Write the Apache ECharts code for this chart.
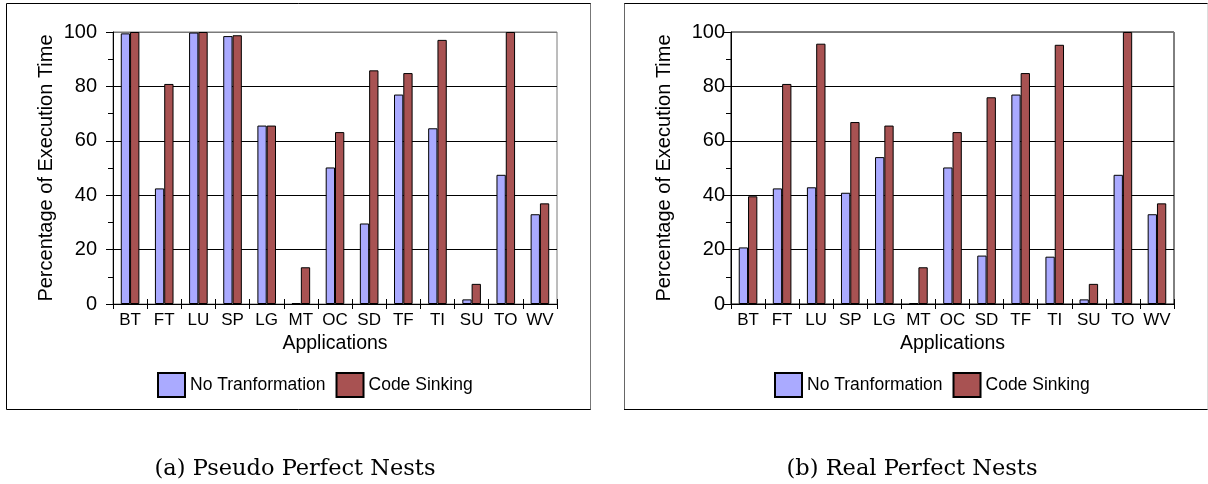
<!DOCTYPE html>
<html>
<head>
<meta charset="utf-8">
<script src="https://cdn.jsdelivr.net/npm/echarts@6/dist/echarts.min.js"></script>
<style>
html,body{margin:0;padding:0;background:#fff;}
#chart{width:1208px;height:484px;}
</style>
</head>
<body>
<div id="chart"></div>
<script>
const categories = ['BT','FT','LU','SP','LG','MT','OC','SD','TF','TI','SU','TO','WV'];
const yTicks = [0, 20, 40, 60, 80, 100];
const seriesNames = ['No Tranformation', 'Code Sinking'];
// (a) Pseudo Perfect Nests
const pseudoNoTransform = [99.5, 42.5, 99.8, 98.5, 65.6, 0.3, 50.2, 29.6, 77.0, 64.6, 1.7, 47.5, 33.0];
const pseudoCodeSinking = [100, 80.9, 100, 98.8, 65.6, 13.5, 63.2, 85.9, 84.9, 97.1, 7.4, 100, 37.0];
// (b) Real Perfect Nests
const realNoTransform = [20.8, 42.5, 42.9, 40.9, 54.0, 0.3, 50.2, 17.8, 77.0, 17.4, 1.7, 47.5, 33.0];
const realCodeSinking = [39.6, 80.9, 95.7, 66.9, 65.6, 13.5, 63.2, 76.0, 84.9, 95.3, 7.4, 100, 37.0];
const captions = ['(a) Pseudo Perfect Nests', '(b) Real Perfect Nests'];
const xName = 'Applications';
const yName = 'Percentage of Execution Time';

const FONT = 'Liberation Sans, Arial, sans-serif';
const BLUE = '#aaaaff';
const RED = '#a85252';

const chart = echarts.init(document.getElementById('chart'), null, {renderer: 'canvas'});

function xAxisDef(gridIndex) {
  return {
    type: 'category', gridIndex, data: categories,
    axisLine: {lineStyle: {color: '#000', width: 1}},
    axisTick: {show: true, alignWithLabel: false, length: 5, lineStyle: {color: '#000'}},
    axisLabel: {color: '#000', fontSize: 17, fontFamily: FONT, margin: 8, interval: 0},
    name: xName, nameLocation: 'middle', nameGap: 28,
    nameTextStyle: {color: '#000', fontSize: 19.5, fontFamily: FONT}
  };
}
// hidden twin axis that draws the upper half of the crossing x ticks
function xAxisInner(gridIndex) {
  return {
    type: 'category', gridIndex, data: categories, position: 'bottom',
    axisLine: {show: false},
    axisTick: {show: true, inside: true, alignWithLabel: false, length: 5, lineStyle: {color: '#000'}},
    axisLabel: {show: false}, splitLine: {show: false}
  };
}
function yAxisDef(gridIndex, labelMargin) {
  return {
    type: 'value', gridIndex, min: yTicks[0], max: yTicks[yTicks.length - 1], interval: 20,
    axisLine: {show: true, lineStyle: {color: '#000', width: 1}},
    axisTick: {show: true, length: 7, lineStyle: {color: '#000'}},
    minorTick: {show: true, splitNumber: 2, length: 5, lineStyle: {color: '#000'}},
    axisLabel: {color: '#000', fontSize: 20, fontFamily: FONT, margin: labelMargin},
    splitLine: {show: true, lineStyle: {color: ['#000', '#000', '#000', '#000', '#000', '#7a7a7a'], width: 1}},
    name: yName, nameLocation: 'middle', nameGap: 57,
    nameTextStyle: {color: '#000', fontSize: 20, fontFamily: FONT}
  };
}
function barSeries(name, data, idx, color) {
  return {
    type: 'bar', name, data, xAxisIndex: idx, yAxisIndex: idx,
    barWidth: 9.3, barGap: '0%',
    itemStyle: {color, borderColor: '#000', borderWidth: 1},
    animation: false
  };
}
function legendDef(left) {
  return {
    data: seriesNames, left, top: 367, orient: 'horizontal',
    itemWidth: 27, itemHeight: 24, itemGap: 10,
    textStyle: {color: '#000', fontSize: 17.5, fontFamily: FONT},
    icon: 'rect', selectedMode: false
  };
}

const option = {
  backgroundColor: '#fff',
  animation: false,
  grid: [
    {left: 113, right: 1208 - 557, top: 32, bottom: 484 - 304, show: true, borderColor: '#7a7a7a', borderWidth: 1, backgroundColor: 'transparent'},
    {left: 731, right: 1208 - 1174, top: 32, bottom: 484 - 304, show: true, borderColor: '#000', borderWidth: 1, backgroundColor: 'transparent'}
  ],
  xAxis: [xAxisDef(0), xAxisDef(1), xAxisInner(0), xAxisInner(1)],
  yAxis: [yAxisDef(0, 16), yAxisDef(1, 6)],
  legend: [legendDef(152), legendDef(769)],
  title: [
    {text: captions[0], left: 290, top: 453, textAlign: 'center',
     textStyle: {fontFamily: 'DejaVu Serif, serif', fontWeight: 'normal', fontSize: 22.5, color: '#000'}},
    {text: captions[1], left: 907, top: 453, textAlign: 'center',
     textStyle: {fontFamily: 'DejaVu Serif, serif', fontWeight: 'normal', fontSize: 22.5, color: '#000'}}
  ],
  series: [
    barSeries(seriesNames[0], pseudoNoTransform, 0, BLUE),
    barSeries(seriesNames[1], pseudoCodeSinking, 0, RED),
    barSeries(seriesNames[0], realNoTransform, 1, BLUE),
    barSeries(seriesNames[1], realCodeSinking, 1, RED)
  ],
  graphic: [
    // panel frames
    {type: 'line', shape: {x1: 6.5, y1: 3.5, x2: 591, y2: 3.5}, style: {stroke: '#000', lineWidth: 1}},
    {type: 'line', shape: {x1: 6.5, y1: 3.5, x2: 6.5, y2: 409.5}, style: {stroke: '#000', lineWidth: 1}},
    {type: 'line', shape: {x1: 6.5, y1: 409.5, x2: 591, y2: 409.5}, style: {stroke: '#000', lineWidth: 1}},
    {type: 'line', shape: {x1: 590.5, y1: 3.5, x2: 590.5, y2: 409.5}, style: {stroke: '#777', lineWidth: 1}},
    {type: 'line', shape: {x1: 624, y1: 3.5, x2: 1208, y2: 3.5}, style: {stroke: '#000', lineWidth: 1}},
    {type: 'line', shape: {x1: 624.5, y1: 3.5, x2: 624.5, y2: 409.5}, style: {stroke: '#666', lineWidth: 1}},
    {type: 'line', shape: {x1: 624, y1: 409.5, x2: 1208, y2: 409.5}, style: {stroke: '#000', lineWidth: 1}},
    {type: 'line', shape: {x1: 1207.5, y1: 3.5, x2: 1207.5, y2: 409.5}, style: {stroke: '#ddd', lineWidth: 1}}
  ]
};
chart.setOption(option);
</script>
</body>
</html>
